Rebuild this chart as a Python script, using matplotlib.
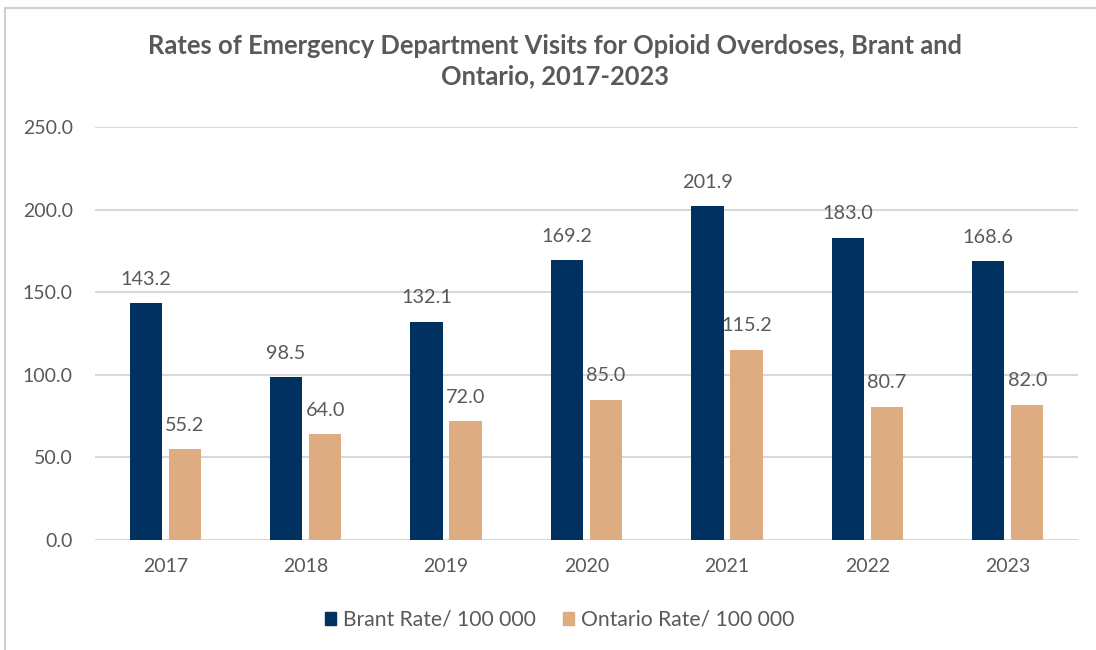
import matplotlib
matplotlib.use("Agg")
import matplotlib.pyplot as plt
import numpy as np
from matplotlib.lines import Line2D

years = ["2017", "2018", "2019", "2020", "2021", "2022", "2023"]
brant = [143.2, 98.5, 132.1, 169.2, 201.9, 183.0, 168.6]
ontario = [55.2, 64.0, 72.0, 85.0, 115.2, 80.7, 82.0]
series_names = ["Brant Rate/ 100 000", "Ontario Rate/ 100 000"]
yticks = [0, 50, 100, 150, 200, 250]
title = "Rates of Emergency Department Visits for Opioid Overdoses, Brant and\nOntario, 2017-2023"

navy = "#00315F"
tan = "#DDAC80"
txt = "#595959"

plt.rcParams['font.family'] = ['Lato', 'DejaVu Sans']

W, H = 1096, 650
fig = plt.figure(figsize=(W / 100, H / 100), dpi=100)
ax = fig.add_axes([95 / W, 1 - 540 / H, (1078 - 95) / W, 413 / H])

x = np.arange(len(years))
bw = 0.23
off = 0.139
b1 = ax.bar(x - off, brant, bw, color=navy, label=series_names[0], zorder=3)
b2 = ax.bar(x + off, ontario, bw, color=tan, label=series_names[1], zorder=3)

for bars, vals in ((b1, brant), (b2, ontario)):
    for r, v in zip(bars, vals):
        ax.annotate(f"{v:.1f}", (r.get_x() + r.get_width() / 2, v),
                    xytext=(0, 11), textcoords="offset points",
                    ha="center", va="bottom", fontsize=14.3, color=txt)

ax.set_xlim(-0.5, len(years) - 0.5)
ax.set_ylim(0, 250)
ax.set_yticks(yticks)
ax.set_yticklabels([f"{t:.1f}" for t in yticks])
ax.set_xticks(x)
ax.set_xticklabels(years)
ax.tick_params(axis="both", length=0, labelsize=14, labelcolor=txt)
ax.tick_params(axis="y", pad=16)
ax.tick_params(axis="x", pad=13)
ax.grid(axis="y", color="#D9D9D9", linewidth=1.5, zorder=0)
for s in ax.spines.values():
    s.set_visible(False)

fig.text(555 / W, 1 - 61 / H, title, ha="center", va="center",
         fontsize=18.4, fontweight="bold", color=txt, linespacing=1.28)

handles = [plt.Rectangle((0, 0), 1, 1, color=navy), plt.Rectangle((0, 0), 1, 1, color=tan)]
fig.legend(handles, series_names, loc="center", bbox_to_anchor=(560 / W, 1 - 620 / H),
           ncol=2, frameon=False, fontsize=15.2, labelcolor=txt,
           handlelength=0.5, handleheight=0.5, handletextpad=0.35, columnspacing=1.3)

fig.add_artist(Line2D([5 / W, 5 / W], [0, 1 - 8 / H], transform=fig.transFigure,
                      color="#D0D0D0", linewidth=1.5))
fig.add_artist(Line2D([5 / W, 1], [1 - 8 / H, 1 - 8 / H], transform=fig.transFigure,
                      color="#D0D0D0", linewidth=1.5))

fig.savefig("out.png", dpi=100, facecolor="white")
